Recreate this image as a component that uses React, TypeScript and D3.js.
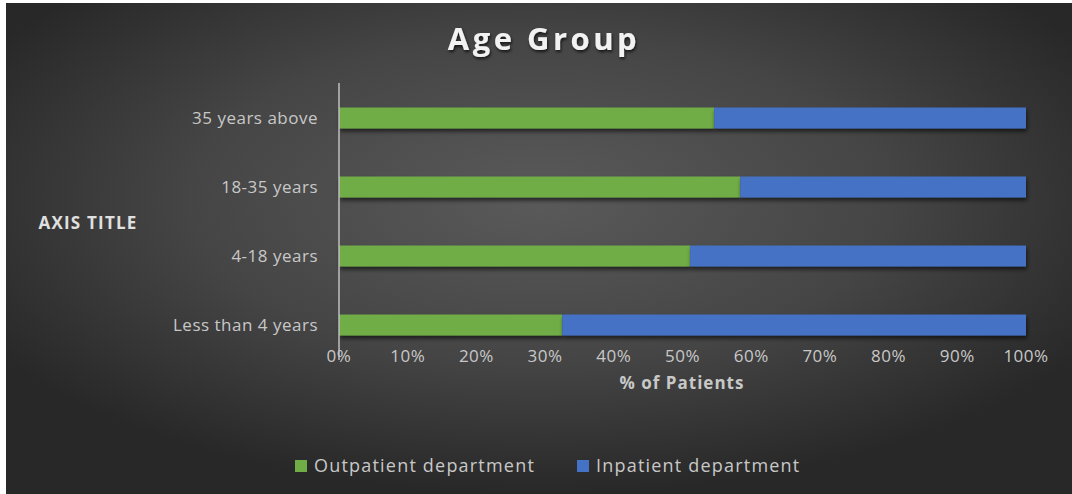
import React from "react";
import * as d3 from "d3";

const categories = ["35 years above", "18-35 years", "4-18 years", "Less than 4 years"];
const outpatient = [54.6, 58.4, 51.1, 32.5];
const inpatient = [45.4, 41.6, 48.9, 67.5];
const seriesNames = ["Outpatient department", "Inpatient department"];
const seriesColors = ["#70AD47", "#4472C4"];
const xTicks = [0, 10, 20, 30, 40, 50, 60, 70, 80, 90, 100];

const W = 1072;
const H = 494;
const FONT = "'Open Sans', 'DejaVu Sans', sans-serif";

export default function App() {
  const x = d3.scaleLinear().domain([0, 100]).range([339, 1026]);
  const y = d3
    .scaleBand<string>()
    .domain(categories)
    .range([83, 360])
    .paddingInner(0.696)
    .paddingOuter(0.355);

  const rows = categories.map((c, i) => ({ c, vals: [outpatient[i], inpatient[i]] }));
  const stack = d3.stack<any>().keys(["0", "1"])(
    rows.map((r) => ({ "0": r.vals[0], "1": r.vals[1], c: r.c }))
  );

  return (
    <svg
      width={W}
      height={H}
      style={{ position: "absolute", left: 0, top: 0 }}
      fontFamily={FONT}
    >
      <defs>
        <radialGradient id="bg" cx="0.5" cy="0.4" r="0.6">
          <stop offset="0" stopColor="#5a5a5a" />
          <stop offset="0.55" stopColor="#454545" />
          <stop offset="1" stopColor="#282828" />
        </radialGradient>
        <filter id="shadow" x="-5%" y="-50%" width="110%" height="250%">
          <feDropShadow dx="1" dy="3" stdDeviation="2" floodColor="#000" floodOpacity="0.6" />
        </filter>
        <filter id="tshadow" x="-10%" y="-30%" width="120%" height="160%">
          <feDropShadow dx="1" dy="2" stdDeviation="1.5" floodColor="#000" floodOpacity="0.7" />
        </filter>
      </defs>
      <rect x={0} y={0} width={W} height={H} fill="#ffffff" />
      <rect x={6} y={3} width={W - 6} height={H - 3} fill="url(#bg)" />

      <text
        x={544}
        y={50}
        textAnchor="middle"
        fill="#f2f2f2"
        fontSize={31}
        fontWeight="bold"
        letterSpacing={3.5}
        filter="url(#tshadow)"
      >
        Age Group
      </text>

      {stack.map((layer, si) =>
        layer.map((d, i) => (
          <rect
            key={`${si}-${i}`}
            x={x(d[0])}
            y={y(categories[i])}
            width={x(d[1]) - x(d[0])}
            height={y.bandwidth()}
            fill={seriesColors[si]}
            filter="url(#shadow)"
          />
        ))
      )}

      <line x1={339} x2={339} y1={83} y2={360} stroke="#bfbfbf" strokeWidth={1.5} />

      {categories.map((c) => (
        <text
          key={c}
          x={318}
          y={(y(c) as number) + y.bandwidth() / 2}
          dy="0.35em"
          textAnchor="end"
          fill="#c8c8c8"
          fontSize={17}
          letterSpacing={0.5}
        >
          {c}
        </text>
      ))}

      {xTicks.map((t) => (
        <text
          key={t}
          x={x(t)}
          y={356}
          dy="0.35em"
          textAnchor="middle"
          fill="#c8c8c8"
          fontSize={17}
          letterSpacing={0.5}
        >
          {t}%
        </text>
      ))}

      <text
        x={682}
        y={383}
        dy="0.35em"
        textAnchor="middle"
        fill="#c8c8c8"
        fontSize={17}
        fontWeight="bold"
        letterSpacing={1}
      >
        % of Patients
      </text>

      <text
        x={88}
        y={223}
        dy="0.35em"
        textAnchor="middle"
        fill="#e0e0e0"
        fontSize={17}
        fontWeight="bold"
        letterSpacing={1.2}
      >
        AXIS TITLE
      </text>

      {seriesNames.map((n, i) => {
        const lx = i === 0 ? 295 : 577;
        return (
          <g key={n}>
            <rect x={lx} y={460} width={12} height={12} fill={seriesColors[i]} />
            <text
              x={lx + 19}
              y={466}
              dy="0.35em"
              fill="#c8c8c8"
              fontSize={18}
              letterSpacing={1.2}
            >
              {n}
            </text>
          </g>
        );
      })}
    </svg>
  );
}
